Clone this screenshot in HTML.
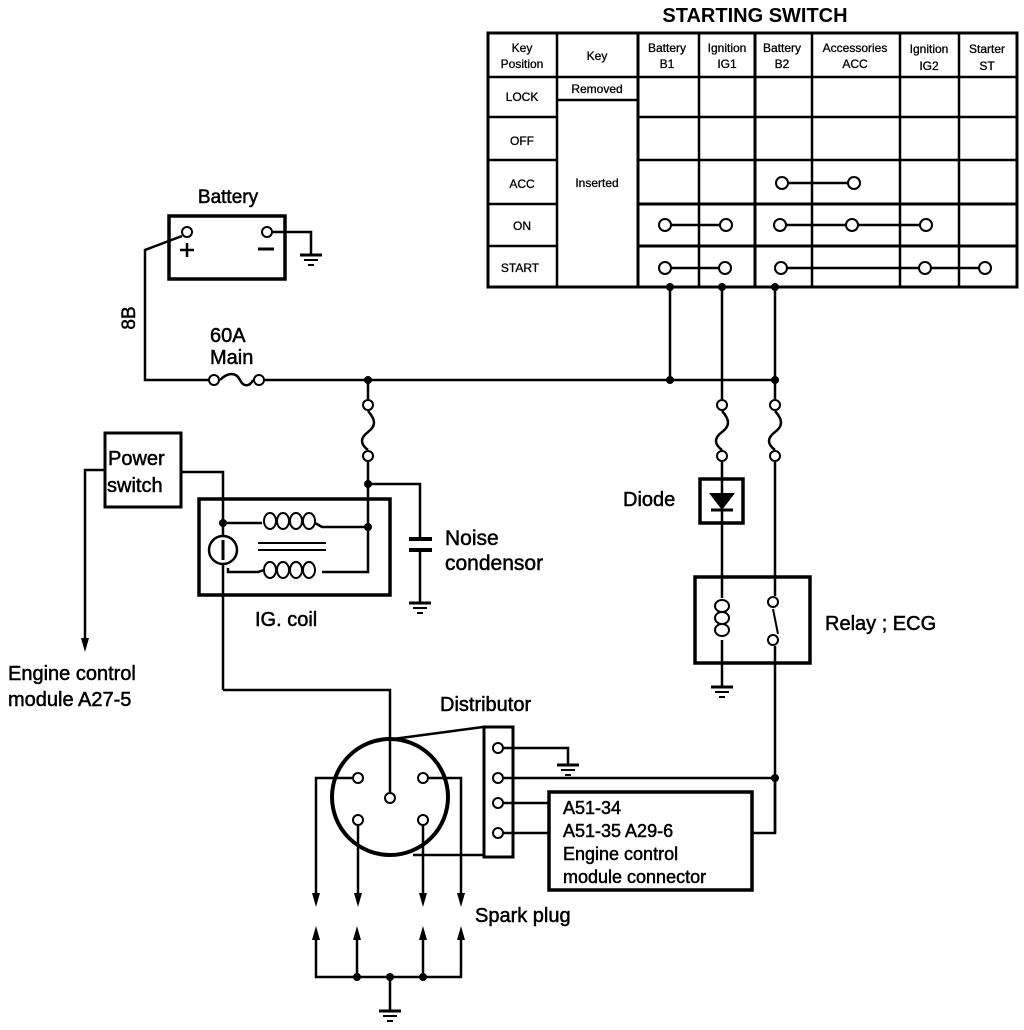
<!DOCTYPE html>
<html><head><meta charset="utf-8"><style>
html,body{margin:0;padding:0;background:#fff;}
svg{display:block;}
text{font-family:"Liberation Sans",sans-serif;fill:#000;}
.lb{stroke:#000;stroke-width:0.5;}
</style></head><body>
<svg width="1024" height="1030" viewBox="0 0 1024 1030" xmlns="http://www.w3.org/2000/svg">
<defs>
<g id="gnd"><line x1="-11" y1="0" x2="11" y2="0" stroke="#000" stroke-width="3"/><line x1="-7" y1="5" x2="7" y2="5" stroke="#000" stroke-width="2"/><line x1="-3" y1="10" x2="3" y2="10" stroke="#000" stroke-width="2"/></g>
</defs>
<g fill="none" stroke="#000" stroke-width="2.5">
<rect x="488" y="33" width="529" height="254" stroke-width="3"/>
<line x1="557" y1="33" x2="557" y2="287"/>
<line x1="638" y1="33" x2="638" y2="287" stroke-width="3"/>
<line x1="699" y1="33" x2="699" y2="287"/>
<line x1="755" y1="33" x2="755" y2="287" stroke-width="3"/>
<line x1="812" y1="33" x2="812" y2="287"/>
<line x1="900" y1="33" x2="900" y2="287"/>
<line x1="959" y1="33" x2="959" y2="287"/>
<line x1="488" y1="77" x2="1017" y2="77"/>
<line x1="488" y1="117" x2="557" y2="117"/><line x1="638" y1="117" x2="1017" y2="117"/>
<line x1="488" y1="160" x2="557" y2="160"/><line x1="638" y1="160" x2="1017" y2="160"/>
<line x1="488" y1="204" x2="557" y2="204"/><line x1="638" y1="204" x2="1017" y2="204" stroke-width="3"/>
<line x1="488" y1="246" x2="557" y2="246"/><line x1="638" y1="246" x2="1017" y2="246" stroke-width="3"/>
<line x1="557" y1="100" x2="638" y2="100"/>
<line x1="788" y1="183" x2="848" y2="183"/>
<line x1="671" y1="225" x2="720" y2="225"/>
<line x1="786" y1="225" x2="920" y2="225"/>
<line x1="671" y1="268" x2="719" y2="268"/>
<line x1="787" y1="268" x2="979" y2="268"/>
<g fill="#fff" stroke-width="2">
<circle cx="782" cy="183" r="6"/><circle cx="854" cy="183" r="6"/>
<circle cx="665" cy="225" r="6"/><circle cx="726" cy="225" r="6"/>
<circle cx="780" cy="225" r="6"/><circle cx="852" cy="225" r="6"/><circle cx="926" cy="225" r="6"/>
<circle cx="665" cy="268" r="6"/><circle cx="725" cy="268" r="6"/>
<circle cx="781" cy="268" r="6"/><circle cx="925" cy="268" r="6"/><circle cx="985" cy="268" r="6"/>
</g>
<line x1="670" y1="287" x2="670" y2="380"/>
<line x1="722" y1="287" x2="722" y2="399"/>
<line x1="775" y1="287" x2="775" y2="399"/>
<rect x="169" y="216" width="116" height="63" stroke-width="3.5"/>
<polyline points="182,236 145,250 145,380 208,380"/>
<polyline points="273,232 311,232 311,254"/>
<line x1="265" y1="380" x2="775" y2="380"/>
<path d="M220,380 C228,372 236,372 240,380 C244,388 250,386 253,380"/>
<line x1="368" y1="380" x2="368" y2="399"/>
<path d="M368,411 C376,420 376,426 368,432 C360,438 360,444 368,450"/>
<polyline points="368,462 368,572 322,572"/>
<polyline points="368,484 420,484 420,539"/>
<line x1="420" y1="550" x2="420" y2="602"/>
<line x1="409" y1="539" x2="432" y2="539" stroke-width="4"/>
<line x1="409" y1="550" x2="432" y2="550" stroke-width="4"/>
<rect x="199" y="499" width="191" height="96" stroke-width="3.5"/>
<polyline points="182,472 223,472 223,536"/>
<line x1="223" y1="564" x2="223" y2="690"/>
<polyline points="223,690 390,690 390,792"/>
<polyline points="223,523 262,523"/>
<g stroke-width="2">
<ellipse cx="270" cy="521" rx="6" ry="8"/><ellipse cx="283" cy="521" rx="6" ry="8"/><ellipse cx="296" cy="521" rx="6" ry="8"/><ellipse cx="309" cy="521" rx="6" ry="8"/>
<ellipse cx="270" cy="570" rx="6" ry="8"/><ellipse cx="283" cy="570" rx="6" ry="8"/><ellipse cx="296" cy="570" rx="6" ry="8"/><ellipse cx="309" cy="570" rx="6" ry="8"/>
</g>
<polyline points="315,523 322,527 368,527"/>
<polyline points="228,568 228,572 258,572 264,570"/>
<line x1="258" y1="543" x2="326" y2="543" stroke-width="2"/>
<line x1="258" y1="550" x2="326" y2="550" stroke-width="2"/>
<circle cx="223" cy="550" r="14"/>
<line x1="223" y1="540" x2="223" y2="560" stroke-width="3"/>
<rect x="105" y="433" width="76" height="74" stroke-width="3"/>
<polyline points="105,470 85,470 85,640"/>
<path d="M722,411 C730,420 730,426 722,432 C714,438 714,444 722,450"/>
<path d="M775,411 C783,420 783,426 775,432 C767,438 767,444 775,450"/>
<line x1="722" y1="462" x2="722" y2="598"/>
<line x1="722" y1="640" x2="722" y2="686"/>
<line x1="775" y1="462" x2="775" y2="596"/>
<line x1="775" y1="646" x2="775" y2="833"/>
<rect x="700" y="479" width="43" height="44" stroke-width="3.5"/>
<line x1="711" y1="510" x2="733" y2="510" stroke-width="3"/>
<rect x="695" y="577" width="115" height="86" stroke-width="3.5"/>
<g stroke-width="2">
<ellipse cx="722" cy="606" rx="7" ry="6"/><ellipse cx="722" cy="618" rx="7" ry="6"/><ellipse cx="722" cy="630" rx="7" ry="6"/>
</g>
<line x1="773" y1="609" x2="778" y2="634" stroke-width="2"/>
<circle cx="390" cy="797" r="58" stroke-width="4"/>
<line x1="393" y1="739" x2="483" y2="727"/>
<line x1="413" y1="855" x2="483" y2="855"/>
<rect x="484" y="727" width="29" height="130" stroke-width="3"/>
<polyline points="504,748 568,748 568,764"/>
<line x1="504" y1="778" x2="775" y2="778"/>
<line x1="504" y1="803" x2="548" y2="803"/>
<line x1="504" y1="833" x2="548" y2="833"/>
<polyline points="752,833 775,833 775,778"/>
<rect x="549" y="792" width="203" height="98" stroke-width="3.5"/>
<polyline points="352,778 316,778 316,895"/>
<polyline points="429,778 461,778 461,895"/>
<line x1="358" y1="826" x2="358" y2="895"/>
<line x1="423" y1="826" x2="423" y2="895"/>
<polyline points="316,938 316,977 461,977 461,938"/>
<line x1="357" y1="938" x2="357" y2="977"/>
<line x1="423" y1="938" x2="423" y2="977"/>
<line x1="390" y1="977" x2="390" y2="1010"/>
</g>
<g fill="#000">
<circle cx="670" cy="287" r="4"/><circle cx="722" cy="287" r="4"/><circle cx="775" cy="287" r="4"/>
<circle cx="368" cy="380" r="4"/><circle cx="670" cy="380" r="4"/><circle cx="775" cy="380" r="4"/>
<circle cx="368" cy="484" r="4"/><circle cx="368" cy="527" r="4"/><circle cx="223" cy="523" r="4"/>
<circle cx="775" cy="778" r="4"/>
<circle cx="357" cy="977" r="4"/><circle cx="390" cy="977" r="4"/><circle cx="423" cy="977" r="4"/>
<polygon points="709,493 735,493 722,510"/>
<polygon points="81,638 89,638 85,652"/>
<polygon points="312,893 320,893 316,907"/><polygon points="354,893 362,893 358,907"/>
<polygon points="419,893 427,893 423,907"/><polygon points="457,893 465,893 461,907"/>
<polygon points="312,940 320,940 316,926"/><polygon points="353,940 361,940 357,926"/>
<polygon points="419,940 427,940 423,926"/><polygon points="457,940 465,940 461,926"/>
</g>
<g fill="#fff" stroke="#000" stroke-width="2">
<circle cx="187" cy="232" r="5"/><circle cx="267" cy="232" r="5"/>
<circle cx="214" cy="380" r="5"/><circle cx="259" cy="380" r="5"/>
<circle cx="368" cy="405" r="5"/><circle cx="368" cy="456" r="5"/>
<circle cx="722" cy="405" r="5"/><circle cx="722" cy="456" r="5"/>
<circle cx="775" cy="405" r="5"/><circle cx="775" cy="456" r="5"/>
<circle cx="773" cy="602" r="5"/><circle cx="773" cy="640" r="5"/>
<circle cx="390" cy="798" r="5"/>
<circle cx="358" cy="778" r="5"/><circle cx="423" cy="778" r="5"/>
<circle cx="358" cy="820" r="5"/><circle cx="423" cy="820" r="5"/>
<circle cx="498" cy="748" r="5"/><circle cx="498" cy="778" r="5"/>
<circle cx="498" cy="803" r="5"/><circle cx="498" cy="833" r="5"/>
</g>
<use href="#gnd" x="311" y="255"/>
<use href="#gnd" x="420" y="603"/>
<use href="#gnd" x="722" y="687"/>
<use href="#gnd" x="568" y="765"/>
<use href="#gnd" x="390" y="1011"/>
<line x1="180" y1="250" x2="194" y2="250" stroke="#000" stroke-width="2.5"/>
<line x1="187" y1="243" x2="187" y2="257" stroke="#000" stroke-width="2.5"/>
<line x1="258" y1="249" x2="274" y2="249" stroke="#000" stroke-width="3"/>
<text x="755" y="22" font-size="20" font-weight="bold" text-anchor="middle">STARTING SWITCH</text>
<g font-size="12" text-anchor="middle" class="lb" style="stroke-width:0.3">
<text x="522" y="52">Key</text><text x="522" y="68">Position</text>
<text x="597" y="60">Key</text>
<text x="667" y="52">Battery</text><text x="667" y="68">B1</text>
<text x="727" y="52">Ignition</text><text x="727" y="68">IG1</text>
<text x="782" y="52">Battery</text><text x="782" y="68">B2</text>
<text x="855" y="52">Accessories</text><text x="855" y="68">ACC</text>
<text x="929" y="53">Ignition</text><text x="929" y="70">IG2</text>
<text x="987" y="53">Starter</text><text x="987" y="70">ST</text>
<text x="522" y="101">LOCK</text>
<text x="597" y="93">Removed</text>
<text x="522" y="145">OFF</text>
<text x="522" y="188">ACC</text>
<text x="597" y="187">Inserted</text>
<text x="522" y="230">ON</text>
<text x="520" y="272">START</text>
</g>
<g class="lb">
<text x="228" y="203" font-size="19" text-anchor="middle">Battery</text>
<text x="0" y="0" font-size="19" transform="translate(135,318) rotate(-90)" text-anchor="middle">8B</text>
<text x="210" y="342" font-size="20">60A</text>
<text x="210" y="364" font-size="20">Main</text>
<text x="108" y="465" font-size="20">Power</text>
<text x="107" y="492" font-size="20">switch</text>
<text x="445" y="545" font-size="21">Noise</text>
<text x="445" y="570" font-size="21">condensor</text>
<text x="255" y="626" font-size="20">IG. coil</text>
<text x="8" y="680" font-size="20">Engine control</text>
<text x="8" y="706" font-size="20">module A27-5</text>
<text x="623" y="506" font-size="20">Diode</text>
<text x="825" y="630" font-size="20">Relay ; ECG</text>
<text x="440" y="711" font-size="20">Distributor</text>
<text x="563" y="814" font-size="18">A51-34</text>
<text x="563" y="837" font-size="18">A51-35 A29-6</text>
<text x="563" y="860" font-size="18">Engine control</text>
<text x="563" y="883" font-size="18">module connector</text>
<text x="475" y="922" font-size="20">Spark plug</text>
</g>
</svg>
</body></html>
